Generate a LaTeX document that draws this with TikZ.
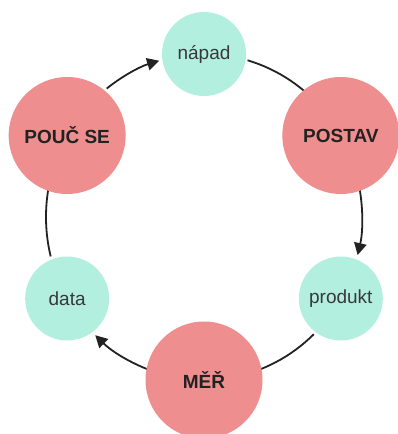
\documentclass[tikz,border=0pt]{standalone}
\usepackage{fontspec}
\setmainfont{Liberation Sans}
\usetikzlibrary{arrows.meta}
\definecolor{mint}{RGB}{179,239,223}
\definecolor{rose}{RGB}{238,142,142}
\definecolor{ink}{RGB}{34,34,34}
\tikzset{
  stage/.style={circle, fill=mint, minimum size=84pt, inner sep=0pt,
    text=ink!90, font=\fontsize{19}{21}\selectfont},
  action/.style={circle, fill=rose, minimum size=117pt, inner sep=0pt,
    text=ink, font=\fontsize{19}{21}\selectfont\bfseries},
  link/.style={draw=ink, line width=1.8pt},
  flow/.style={link, -{Triangle[length=12pt,width=12.5pt]}},
  ring/.style={x radius=158pt, y radius=163pt},
}
\begin{document}
\begin{tikzpicture}[x=1pt,y=1pt]
\useasboundingbox (0,0) rectangle (398,434);
\coordinate (c) at (204,217);
% arcs of the cycle, drawn first so the circles sit on top
\draw[link] ([shift={(74:158 and 163)}]c) arc[start angle=74, end angle=40, ring];
\draw[flow] ([shift={(12:158 and 163)}]c) arc[start angle=12, end angle=-13.5, ring];
\draw[link] ([shift={(-46:158 and 163)}]c) arc[start angle=-46, end angle=-80, ring];
\draw[flow] ([shift={(-108:158 and 163)}]c) arc[start angle=-108, end angle=-133.5, ring];
\draw[link] ([shift={(-166:158 and 163)}]c) arc[start angle=-166, end angle=-200, ring];
\draw[flow] ([shift={(128:158 and 163)}]c) arc[start angle=128, end angle=106.5, ring];
% stages and actions around the ring
\node[stage]  (napad)   at ([shift={(90:158 and 163)}]c)   {nápad};
\node[action] (postav)  at ([shift={(30:158 and 163)}]c)   {POSTAV};
\node[stage]  (produkt) at ([shift={(-30:158 and 163)}]c)  {produkt};
\node[action] (mer)     at ([shift={(-90:158 and 163)}]c)  {MĚŘ};
\node[stage]  (data)    at ([shift={(-150:158 and 163)}]c) {data};
\node[action] (pouc)    at ([shift={(150:158 and 163)}]c)  {POUČ SE};
\end{tikzpicture}
\end{document}
